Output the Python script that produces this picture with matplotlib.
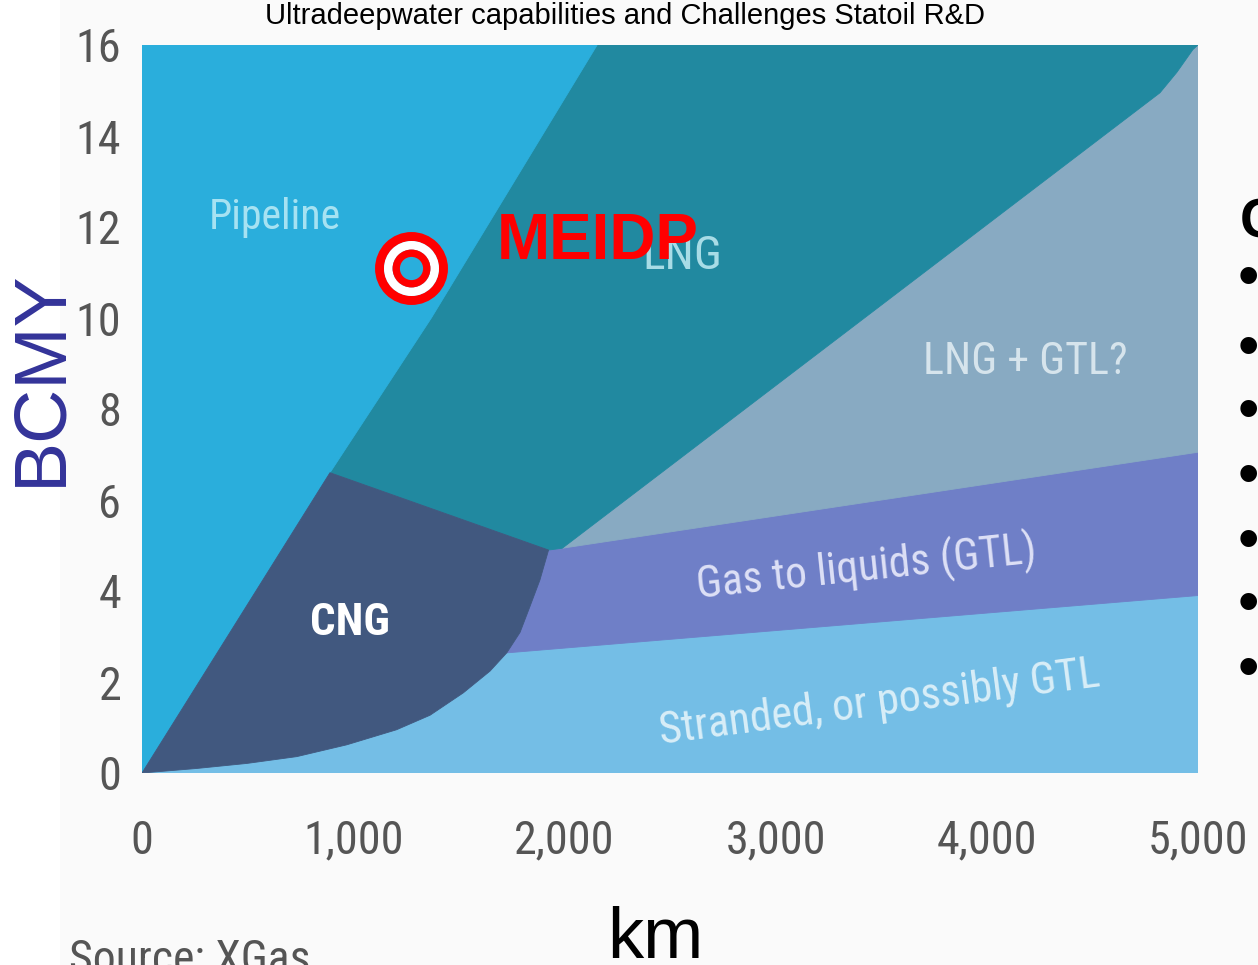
import matplotlib
matplotlib.use('Agg')
import matplotlib.pyplot as plt
from matplotlib.patches import Rectangle
from matplotlib import font_manager as fm

# ---------------- data ----------------
x_ticks = [0, 1000, 2000, 3000, 4000, 5000]
x_tick_labels = ['0', '1,000', '2,000', '3,000', '4,000', '5,000']
y_ticks = [0, 2, 4, 6, 8, 10, 12, 14, 16]

# Pipeline / (CNG, LNG) boundary
pipe_x = [0, 890, 1370, 2155]
pipe_y = [0, 6.6, 10.0, 16.0]
# CNG upper edge
cng_top_x = [890, 1925]
cng_top_y = [6.6, 4.9]
# CNG lower curved edge
cng_curve_x = [0, 260, 496, 733, 970, 1205, 1364, 1521, 1648, 1727, 1790, 1837, 1884, 1925]
cng_curve_y = [0, 0.10, 0.21, 0.36, 0.62, 0.95, 1.27, 1.76, 2.24, 2.64, 3.09, 3.66, 4.24, 4.9]
# GTL band edges
gtl_low_x = [1727, 5000]
gtl_low_y = [2.64, 3.9]
gtl_up_x = [1925, 5000]
gtl_up_y = [4.9, 7.05]
# LNG / LNG+GTL boundary
lng_x = [1990, 4820, 4900, 4976, 5000]
lng_y = [4.94, 14.95, 15.4, 15.9, 16.0]
# MEIDP point
meidp_x = [1274]
meidp_y = [11.1]

col_pipe = '#2AAEDC'
col_lng = '#2189A0'
col_lnggtl = '#88AAC2'
col_gtl = '#6F7FC7'
col_strand = '#74BEE6'
col_cng = '#41587F'

# ---------------- fonts ----------------
def pick_condensed(bold=False):
    pref = ['Liberation Sans Narrow', 'Roboto Condensed', 'Open Sans Condensed',
            'Noto Sans', 'DejaVu Sans', 'Roboto', 'Open Sans']
    best = None
    for f in fm.fontManager.ttflist:
        if str(f.stretch) not in ('condensed', 'semi-condensed', 'extra-condensed') and \
                f.name not in ('Liberation Sans Narrow', 'Roboto Condensed', 'Open Sans Condensed'):
            continue
        if f.style != 'normal':
            continue
        try:
            w = int(f.weight)
        except (TypeError, ValueError):
            w = 700 if 'bold' in str(f.weight) else 400
        if bold and w < 600:
            continue
        if not bold and w != 400:
            continue
        rank = pref.index(f.name) if f.name in pref else len(pref)
        if best is None or rank < best[0]:
            best = (rank, f.fname)
    if best is None:
        return fm.FontProperties(family='Liberation Sans', weight='bold' if bold else 'normal')
    return fm.FontProperties(fname=best[1])

fp_narrow = pick_condensed(False)
fp_narrow_b = pick_condensed(True)

W, H = 1258, 965
fig = plt.figure(figsize=(W / 100, H / 100), dpi=100)
fig.patch.set_facecolor('white')
fig.add_artist(Rectangle((60 / W, 0), 1 - 60 / W, 1, transform=fig.transFigure,
                         facecolor='#FAFAFA', edgecolor='none', zorder=-10))
renderer = fig.canvas.get_renderer()

def fit_width(t, target_px):
    rot = t.get_rotation()
    t.set_rotation(0)
    w = t.get_window_extent(renderer).width
    t.set_fontsize(t.get_fontsize() * target_px / w)
    t.set_rotation(rot)
    return t

ax = fig.add_axes([142 / W, 1 - 773 / H, 1056 / W, 728 / H])
ax.set_xlim(0, 5000)
ax.set_ylim(0, 16)
ax.set_facecolor(col_strand)
for s in ax.spines.values():
    s.set_visible(False)

# regions
k = cng_curve_x.index(gtl_low_x[0])
gx = gtl_up_x + gtl_low_x[::-1] + cng_curve_x[k + 1:]
gy = gtl_up_y + gtl_low_y[::-1] + cng_curve_y[k + 1:]
ax.fill(gx, gy, color=col_gtl, lw=0.6, ec=col_gtl)

ax.fill(lng_x + [gtl_up_x[-1]], lng_y + [gtl_up_y[-1]], color=col_lnggtl, lw=0.6, ec=col_lnggtl)

lx = pipe_x[1:] + [5000] + lng_x[::-1] + [gtl_up_x[0]]
ly = pipe_y[1:] + [16] + lng_y[::-1] + [gtl_up_y[0]]
ax.fill(lx, ly, color=col_lng, lw=0.6, ec=col_lng)

ax.fill(pipe_x + [0], pipe_y + [16], color=col_pipe, lw=0.6, ec=col_pipe)

cx = pipe_x[:2] + cng_top_x[1:] + cng_curve_x[::-1][1:]
cy = pipe_y[:2] + cng_top_y[1:] + cng_curve_y[::-1][1:]
ax.fill(cx, cy, color=col_cng, lw=0.6, ec=col_cng)

# ticks
probe = fig.text(0, 0, '1,000', fontproperties=fp_narrow, fontsize=36)
fit_width(probe, 100)
tick_fs = probe.get_fontsize()
probe.remove()

ax.set_xticks(x_ticks)
ax.set_xticklabels(x_tick_labels)
ax.set_yticks(y_ticks)
ax.set_yticklabels([str(v) for v in y_ticks])
ax.tick_params(axis='both', length=0, colors='#555555')
ax.tick_params(axis='x', pad=33)
ax.tick_params(axis='y', pad=15)
for lab in ax.get_xticklabels() + ax.get_yticklabels():
    lab.set_fontproperties(fp_narrow)
    lab.set_fontsize(tick_fs)

# region labels
t = ax.text(630, 12.2, 'Pipeline', fontproperties=fp_narrow, fontsize=31, color='#A6E2F2',
            ha='center', va='center')
fit_width(t, 132)
t = ax.text(2746, 11.08, 'LNG', fontproperties=fp_narrow, fontsize=36, color='#A8DCE6',
            ha='right', va='baseline')
fit_width(t, 80)
t = ax.text(4181, 9.03, 'LNG + GTL?', fontproperties=fp_narrow, fontsize=32, color='#D6E4EC',
            ha='center', va='center')
fit_width(t, 205)
t = ax.text(3428, 4.5, 'Gas to liquids (GTL)', fontproperties=fp_narrow, fontsize=33,
            color='#DDE0F6', ha='center', va='center', rotation=6, rotation_mode='anchor')
fit_width(t, 342)
t = ax.text(3494, 1.54, 'Stranded, or possibly GTL', fontproperties=fp_narrow, fontsize=34,
            color='#D8EEF8', ha='center', va='center', rotation=7.5, rotation_mode='anchor')
fit_width(t, 445)
t = ax.text(985, 3.3, 'CNG', fontproperties=fp_narrow_b, fontsize=32, color='white',
            ha='center', va='center')
fit_width(t, 80)

# MEIDP marker and label
ax.plot(meidp_x, meidp_y, 'o', ms=46, mfc='none', mec='#FF0000', mew=6.5, zorder=5)
ax.plot(meidp_x, meidp_y, 'o', ms=33.4, mfc='none', mec='white', mew=6.2, zorder=5)
ax.plot(meidp_x, meidp_y, 'o', ms=22, mfc='none', mec='#FF0000', mew=5.3, zorder=5)
ax.text(1681, 11.3, 'MEIDP', family='Liberation Sans', fontsize=46, fontweight='bold',
        color='#FF0000', ha='left', va='baseline', zorder=6)

# slide texts
fig.text(625 / W, 1 - 16 / H, 'Ultradeepwater capabilities and Challenges Statoil R&D',
         family='Liberation Sans', fontsize=21, color='black', ha='center', va='center')
fig.text(41 / W, 1 - 378 / H, 'BCMY', family='Liberation Sans', fontsize=54, color='#333399',
         rotation=90, ha='center', va='center')
fig.text(655 / W, 1 - 958 / H, 'km', family='Liberation Sans', fontsize=52, color='black',
         ha='center', va='baseline')
t = fig.text(69 / W, 1 - 938 / H, 'Source: XGas', fontproperties=fp_narrow, fontsize=34,
             color='#555555', ha='left', va='top')
fit_width(t, 242)
fig.text(1240 / W, 1 - 237 / H, 'C', family='Liberation Sans', fontsize=40, fontweight='bold',
         color='black', ha='left', va='baseline')
for by in [277, 347, 410, 475, 540, 603, 668]:
    fig.text(1238 / W, 1 - (by + 19) / H, '•', family='Liberation Sans', fontsize=44,
             color='black', ha='left', va='baseline')

fig.savefig('out.png', dpi=100, facecolor=fig.get_facecolor())
